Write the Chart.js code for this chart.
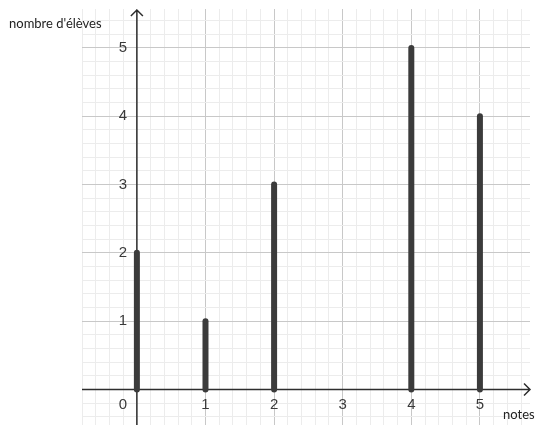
<!DOCTYPE html>
<html>
<head>
<meta charset="utf-8">
<script src="https://cdn.jsdelivr.net/npm/chart.js@4"></script>
<style>
  html, body { margin: 0; padding: 0; background: #fff; }
  #wrap { width: 539px; height: 428px; }
</style>
</head>
<body>
<div id="wrap"><canvas id="chart" width="539" height="428"></canvas></div>
<script>
const notes = [0, 1, 2, 3, 4, 5];
const eleves = [2, 1, 3, 0, 5, 4];
const xTickLabels = ['0', '1', '2', '3', '4', '5'];
const yTickLabels = ['1', '2', '3', '4', '5'];
const yTickValues = [1, 2, 3, 4, 5];

const isInt = v => Math.abs(v - Math.round(v)) < 1e-6;
const gridColor = ctx => isInt(ctx.tick.value) ? '#c8c8c8' : '#ececec';

// one dataset per stick: from 0 up to the value
const datasets = notes.map((n, i) => ({
    data: [{x: n, y: 0}, {x: n, y: eleves[i]}],
    borderColor: '#3b3b3b',
    borderWidth: 6,
    borderCapStyle: 'round',
    pointRadius: 0,
    fill: false
})).filter((d, i) => eleves[i] > 0);

const axesAndLabels = {
    id: 'axesAndLabels',
    beforeDatasetsDraw(chart) {
        const {ctx, chartArea: a, scales: {x, y}} = chart;
        const x0 = x.getPixelForValue(0), y0 = y.getPixelForValue(0);
        ctx.save();
        ctx.strokeStyle = '#2e2e2e';
        ctx.lineWidth = 1.5;
        ctx.beginPath();
        ctx.moveTo(a.left, y0); ctx.lineTo(a.right, y0);
        ctx.moveTo(x0, a.bottom); ctx.lineTo(x0, a.top + 1);
        // arrow heads
        ctx.moveTo(a.right - 6, y0 - 6); ctx.lineTo(a.right, y0); ctx.lineTo(a.right - 6, y0 + 6);
        ctx.moveTo(x0 - 6, a.top + 7); ctx.lineTo(x0, a.top + 1); ctx.lineTo(x0 + 6, a.top + 7);
        ctx.stroke();
        ctx.restore();
    },
    afterDatasetsDraw(chart) {
        const {ctx, scales: {x, y}} = chart;
        const x0 = x.getPixelForValue(0), y0 = y.getPixelForValue(0);
        ctx.save();
        ctx.fillStyle = '#3a3a3a';
        ctx.font = '15px "Liberation Sans", Arial, sans-serif';
        ctx.textAlign = 'center';
        ctx.textBaseline = 'middle';
        notes.forEach((n, i) => {
            const px = n === 0 ? x0 - 14 : x.getPixelForValue(n);
            ctx.fillText(xTickLabels[i], px, y0 + 15);
        });
        yTickValues.forEach((v, i) => {
            ctx.fillText(yTickLabels[i], x0 - 14, y.getPixelForValue(v));
        });
        ctx.fillStyle = '#222';
        ctx.font = '13px Lato, "Open Sans", sans-serif';
        ctx.textAlign = 'left';
        ctx.fillText("nombre d'élèves", 9, 24);
        ctx.fillText('notes', 503, 415);
        ctx.restore();
    }
};

new Chart(document.getElementById('chart'), {
    type: 'line',
    data: { datasets: datasets },
    options: {
        responsive: false,
        animation: false,
        layout: { padding: { left: 82, right: 9, top: 9, bottom: 3 } },
        plugins: { legend: { display: false }, tooltip: { enabled: false } },
        scales: {
            x: {
                type: 'linear',
                min: -0.8, max: 5.73,
                ticks: { display: false, stepSize: 0.2, includeBounds: false },
                grid: { color: gridColor, drawTicks: false, lineWidth: 1 },
                border: { display: false }
            },
            y: {
                type: 'linear',
                min: -0.52, max: 5.57,
                ticks: { display: false, stepSize: 0.2, includeBounds: false },
                grid: { color: gridColor, drawTicks: false, lineWidth: 1 },
                border: { display: false }
            }
        }
    },
    plugins: [axesAndLabels]
});
</script>
</body>
</html>
